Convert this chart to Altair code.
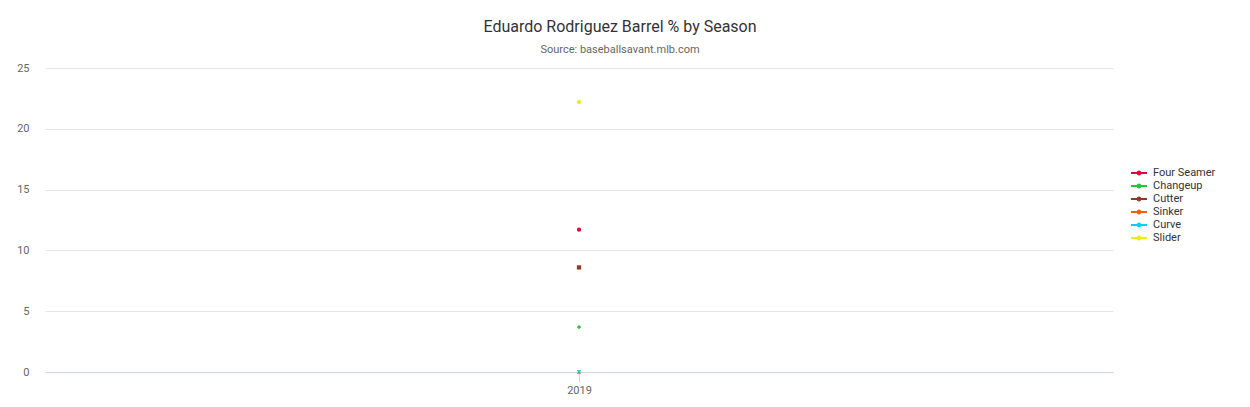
import altair as alt
import pandas as pd

seasons = ["2019"] * 6
pitches = ["Four Seamer", "Changeup", "Cutter", "Sinker", "Curve", "Slider"]
barrel_pct = [11.7, 3.7, 8.6, 0.0, 0.0, 22.2]
colors = ["#e4003b", "#1ec83c", "#993322", "#f06000", "#00d2ee", "#eeee00"]
shapes = ["circle", "diamond", "square", "triangle-up", "triangle-down", "circle"]

df = pd.DataFrame({"Season": seasons, "Pitch": pitches, "Barrel": barrel_pct,
                   "Col": colors, "Shp": shapes, "idx": list(range(len(pitches)))})

FONT = "Roboto"
legend_sym = "M-1,-0.13H1V0.13H-1Z M-0.3,0A0.3,0.3 0 1,1 0.3,0A0.3,0.3 0 1,1 -0.3,0Z"

x_enc = alt.X("Season:N", title=None,
              scale=alt.Scale(type="point", padding=0.5),
              axis=alt.Axis(labelAngle=0, domainColor="#ccd6eb", tickColor="#ccd6eb",
                            tickSize=10, labelColor="#666666", labelFontSize=11,
                            labelFont=FONT, labelPadding=2, grid=False))
y_enc = alt.Y("Barrel:Q", title=None,
              scale=alt.Scale(domain=[0, 25], nice=False),
              axis=alt.Axis(values=[0, 5, 10, 15, 20, 25], domain=False, ticks=False,
                            gridColor="#e6e6e6", labelColor="#666666", labelFontSize=11,
                            labelFont=FONT, labelPadding=16))

base = alt.Chart(df)

legend_layer = base.mark_point(filled=True, size=18, opacity=0).encode(
    x=x_enc, y=y_enc,
    color=alt.Color("Pitch:N", sort=pitches,
                    scale=alt.Scale(domain=pitches, range=colors),
                    legend=alt.Legend(title=None, orient="none", legendX=1086, legendY=97,
                                      symbolType=legend_sym, symbolSize=256,
                                      symbolStrokeWidth=0, symbolOpacity=1,
                                      labelFont=FONT, labelFontSize=11,
                                      labelColor="#333333", rowPadding=-1, labelOffset=6)),
)

points = base.mark_point(filled=True, size=18, opacity=1).encode(
    x=x_enc, y=y_enc,
    fill=alt.Fill("Col:N", scale=None),
    color=alt.Color("Col:N", scale=None),
    shape=alt.Shape("Shp:N", scale=None),
    order=alt.Order("idx:Q"),
)

chart = alt.layer(legend_layer, points).properties(
    width=1068,
    height=304,
    title=alt.Title("Eduardo Rodriguez Barrel % by Season",
                    subtitle="Source: baseballsavant.mlb.com",
                    font=FONT, fontSize=16, fontWeight="normal", color="#333333",
                    subtitleFont=FONT, subtitleFontSize=11, subtitleColor="#666666",
                    subtitlePadding=9, anchor="middle", dx=41, offset=7),
    autosize=alt.AutoSizeParams(type="none"),
    padding={"left": 37, "top": 60, "right": 129, "bottom": 27},
).resolve_scale(color="independent").configure_view(stroke=None)

chart.save("out.html", embed_options={"renderer": "svg", "actions": False})
